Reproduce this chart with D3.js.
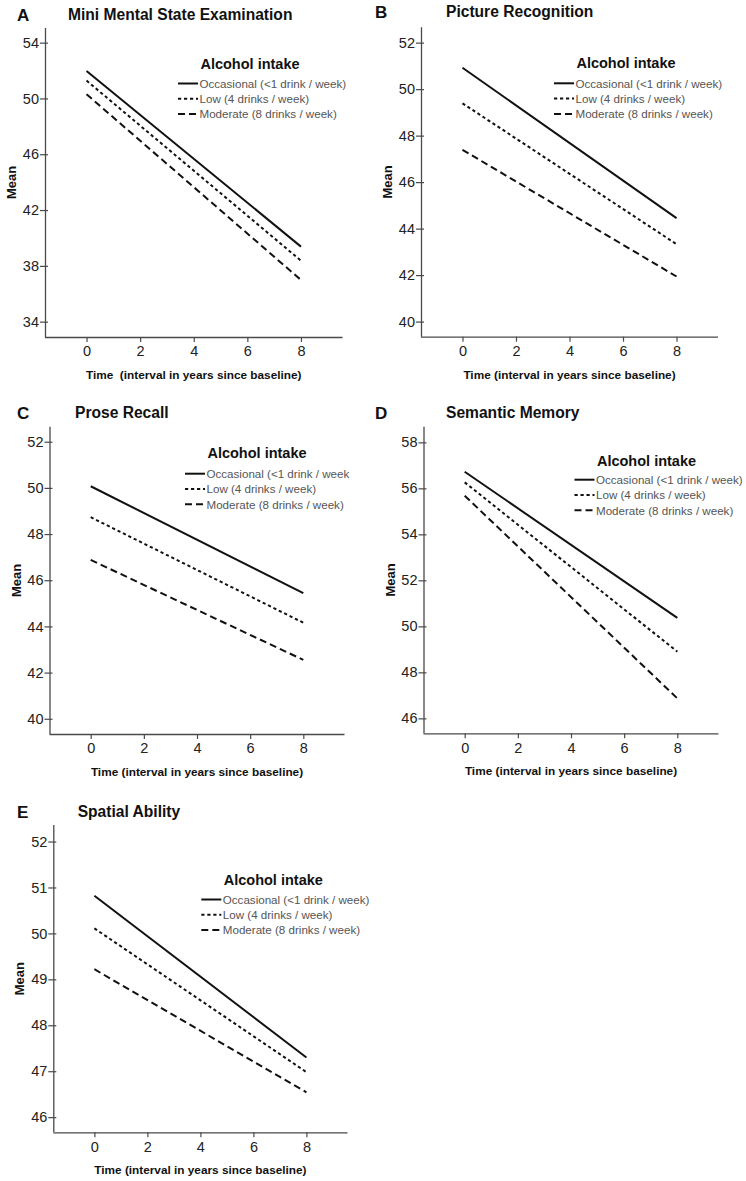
<!DOCTYPE html>
<html>
<head>
<meta charset="utf-8">
<script src="https://cdn.jsdelivr.net/npm/d3@7"></script>
<style>
  html, body { margin: 0; padding: 0; background: #fff; }
  svg { display: block; font-family: "Liberation Sans", Arial, sans-serif; }
</style>
</head>
<body>
<svg id="chart" width="746" height="1181"></svg>
<script>
// ---------------- DATA ----------------
const timePoints = [0, 8];
const xTicks = [0, 2, 4, 6, 8];
const seriesNames = ["Occasional (<1 drink / week)", "Low (4 drinks / week)", "Moderate (8 drinks / week)"];
const proseSeriesNames = ["Occasional (<1 drink / week", "Low (4 drinks / week)", "Moderate (8 drinks / week)"];
const legendTitle = "Alcohol intake";
const yAxisTitle = "Mean";
const xAxisTitleA = "Time  (interval in years since baseline)";
const xAxisTitle = "Time (interval in years since baseline)";

const panelLetters = ["A", "B", "C", "D", "E"];
const panelTitles = ["Mini Mental State Examination", "Picture Recognition", "Prose Recall", "Semantic Memory", "Spatial Ability"];

const mmseTicks = [34, 38, 42, 46, 50, 54];
const mmseOccasional = [51.97, 39.38];
const mmseLow = [51.28, 38.37];
const mmseModerate = [50.30, 36.99];

const pictureTicks = [40, 42, 44, 46, 48, 50, 52];
const pictureOccasional = [50.92, 44.45];
const pictureLow = [49.39, 43.33];
const pictureModerate = [47.39, 41.94];

const proseTicks = [40, 42, 44, 46, 48, 50, 52];
const proseOccasional = [50.07, 45.44];
const proseLow = [48.73, 44.16];
const proseModerate = [46.88, 42.55];

const semanticTicks = [46, 48, 50, 52, 54, 56, 58];
const semanticOccasional = [56.72, 50.37];
const semanticLow = [56.26, 48.90];
const semanticModerate = [55.68, 46.87];

const spatialTicks = [46, 47, 48, 49, 50, 51, 52];
const spatialOccasional = [50.82, 47.30];
const spatialLow = [50.11, 46.98];
const spatialModerate = [49.22, 46.54];

// ---------------- LAYOUT (positions / styles) ----------------
const xDomain = [-1.55, 9.55];
const panels = [
  { frame: [45, 342.5, 28, 337], yDomain: [32.9, 55.05], ticks: mmseTicks,
    series: [mmseOccasional, mmseLow, mmseModerate], names: seriesNames, xTitle: xAxisTitleA,
    legX: 133, legTitleDY: 41, legRowDY: 14.5, letterX: 17, titleX: 68, titleDY: -8 },
  { frame: [421, 718, 27.3, 336.7], yDomain: [39.35, 52.66], ticks: pictureTicks,
    series: [pictureOccasional, pictureLow, pictureModerate], names: seriesNames, xTitle: xAxisTitle,
    legX: 133, legTitleDY: 40.5, legRowDY: 15.5, letterX: 375, titleX: 446, titleDY: -10 },
  { frame: [49.5, 344.5, 426.7, 734], yDomain: [39.34, 52.65], ticks: proseTicks,
    series: [proseOccasional, proseLow, proseModerate], names: proseSeriesNames, xTitle: xAxisTitle,
    legX: 135.5, legTitleDY: 31, legRowDY: 16, letterX: 17, titleX: 75, titleDY: -8.5 },
  { frame: [423.5, 718.5, 426.7, 733.3], yDomain: [45.35, 58.68], ticks: semanticTicks,
    series: [semanticOccasional, semanticLow, semanticModerate], names: seriesNames, xTitle: xAxisTitle,
    legX: 151, legTitleDY: 39.5, legRowDY: 13.5, letterX: 375, titleX: 446, titleDY: -8.5 },
  { frame: [53.3, 347.5, 825, 1132.3], yDomain: [45.67, 52.36], ticks: spatialTicks,
    series: [spatialOccasional, spatialLow, spatialModerate], names: seriesNames, xTitle: xAxisTitle,
    legX: 148, legTitleDY: 59.5, legRowDY: 15, letterX: 17, titleX: 77.7, titleDY: -8 }
];
const dashes = [null, "3.2,2.8", "7,4"];
const axisColor = "#4a4a4a";
const lineColor = "#111";

const svg = d3.select("#chart");
svg.append("rect").attr("width", 746).attr("height", 1181).attr("fill", "#fff");

panels.forEach((p, i) => {
  const [left, right, top, bottom] = p.frame;
  const x = d3.scaleLinear().domain(xDomain).range([left, right]);
  const y = d3.scaleLinear().domain(p.yDomain).range([bottom, top]);
  const g = svg.append("g");

  // Y axis
  const yAxis = d3.axisLeft(y).tickValues(p.ticks).tickFormat(d3.format("d"))
    .tickSizeInner(5).tickSizeOuter(0).tickPadding(1);
  const ya = g.append("g").attr("transform", `translate(${left},0)`).call(yAxis);
  ya.select(".domain").attr("stroke", axisColor).attr("stroke-width", 1.3)
    .attr("d", `M0.5,${top}V${bottom}`);
  ya.selectAll(".tick line").attr("stroke", axisColor).attr("stroke-width", 1.2).attr("x1", 3);
  ya.selectAll(".tick text").attr("fill", "#222").attr("font-size", 14.5)
    .attr("font-family", "Liberation Sans, Arial, sans-serif");

  // X axis
  const xAxis = d3.axisBottom(x).tickValues(xTicks).tickFormat(d3.format("d"))
    .tickSizeInner(5).tickSizeOuter(0).tickPadding(4);
  const xa = g.append("g").attr("transform", `translate(0,${bottom})`).call(xAxis);
  xa.select(".domain").attr("stroke", axisColor).attr("stroke-width", 1.3)
    .attr("d", `M${left},0.5H${right}`);
  xa.selectAll(".tick line").attr("stroke", axisColor).attr("stroke-width", 1.2);
  xa.selectAll(".tick text").attr("fill", "#222").attr("font-size", 14.5)
    .attr("font-family", "Liberation Sans, Arial, sans-serif");

  // Axis titles
  g.append("text").attr("x", x(4)).attr("y", bottom + 42)
    .attr("text-anchor", "middle").attr("font-weight", "bold").attr("font-size", 11.8)
    .style("white-space", "pre").attr("fill", "#111").text(p.xTitle);
  g.append("text")
    .attr("transform", `translate(${left - 29},${(top + bottom) / 2}) rotate(-90)`)
    .attr("text-anchor", "middle").attr("font-weight", "bold").attr("font-size", 13)
    .attr("fill", "#111").text(yAxisTitle);

  // Panel letter & title
  g.append("text").attr("x", p.letterX).attr("y", top + p.titleDY + 1)
    .attr("font-weight", "bold").attr("font-size", 17).attr("fill", "#111").text(panelLetters[i]);
  g.append("text").attr("x", p.titleX).attr("y", top + p.titleDY)
    .attr("font-weight", "bold").attr("font-size", 15.6).attr("fill", "#111").text(panelTitles[i]);

  // Lines
  const line = d3.line().x((d, j) => x(timePoints[j])).y(d => y(d));
  p.series.forEach((vals, k) => {
    g.append("path").datum(vals).attr("d", line)
      .attr("fill", "none").attr("stroke", lineColor).attr("stroke-width", 2)
      .attr("stroke-dasharray", dashes[k]);
  });

  // Legend
  const lx = left + p.legX;
  const lty = top + p.legTitleDY;
  const legendTitleX = lx + 72;
  g.append("text").attr("x", legendTitleX).attr("y", lty).attr("text-anchor", "middle")
    .attr("font-weight", "bold").attr("font-size", 14.5).attr("fill", "#111").text(legendTitle);
  p.names.forEach((name, k) => {
    const ry = lty + p.legRowDY + k * 15.3;
    g.append("line").attr("x1", lx).attr("x2", lx + 20).attr("y1", ry).attr("y2", ry)
      .attr("stroke", lineColor).attr("stroke-width", 2).attr("stroke-dasharray", dashes[k]);
    g.append("text").attr("x", lx + 21.5).attr("y", ry + 4.3)
      .attr("font-size", 11.6).attr("fill", "#555").text(name);
  });
});
</script>
</body>
</html>
